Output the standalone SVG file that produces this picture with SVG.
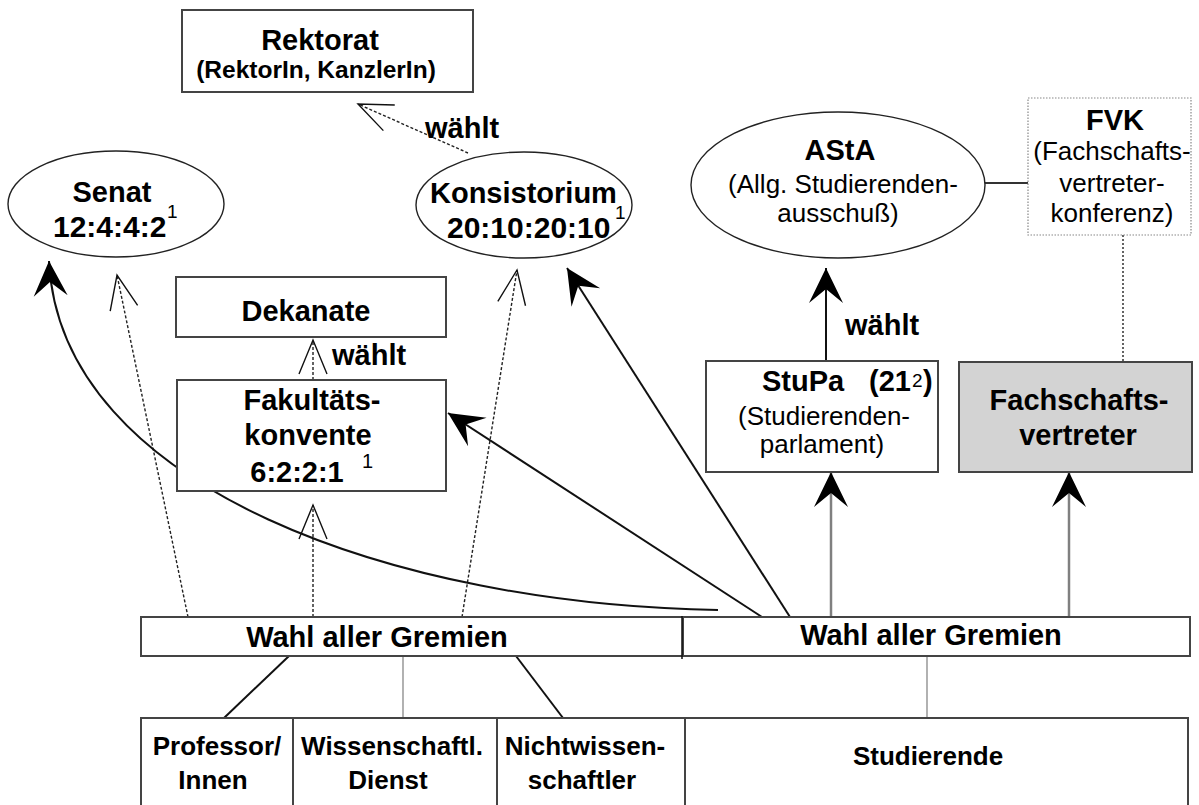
<svg xmlns="http://www.w3.org/2000/svg" width="1199" height="805" viewBox="0 0 1199 805">
<style>
text{font-family:"Liberation Sans",Arial,sans-serif;fill:#000}
.t{font-size:29px;font-weight:bold}
.n{font-size:30px;font-weight:bold}
.s{font-size:26px}
.b{font-size:26px;font-weight:bold}
.sup{font-size:19px}
.box{fill:#fff;stroke:#444;stroke-width:2}
.ell{fill:#fff;stroke:#222;stroke-width:1.4}
.solid{fill:none;stroke:#111;stroke-width:2}
.gray{fill:none;stroke:#808080;stroke-width:2.5}
.thin{fill:none;stroke:#888;stroke-width:1.3}
.dash{fill:none;stroke:#222;stroke-width:1.4;stroke-dasharray:3 2}
</style>
<defs>
<marker id="fa" markerUnits="userSpaceOnUse" viewBox="-40 -20 44 40" refX="0" refY="0" markerWidth="44" markerHeight="40" orient="auto">
<path d="M0,0 L-35,-17 L-21,0 L-35,17 Z" fill="#000"/>
</marker>
<marker id="oa" markerUnits="userSpaceOnUse" viewBox="-40 -20 44 40" refX="0" refY="0" markerWidth="44" markerHeight="40" orient="auto">
<path d="M-34,-14 L0,0 L-34,14" fill="none" stroke="#111" stroke-width="1.4"/>
</marker>
</defs>

<g id="connectors">
<path class="dash" d="M468,153 L358,104" marker-end="url(#oa)"/>
<path class="dash" d="M313,380 L313,340" marker-end="url(#oa)"/>
<path class="dash" d="M188,617 L117,275" marker-end="url(#oa)"/>
<path class="dash" d="M313,617 L313,505" marker-end="url(#oa)"/>
<path class="dash" d="M462,617 L517,270" marker-end="url(#oa)"/>
<path class="solid" d="M718,610 C400,605 60,490 49,261" marker-end="url(#fa)"/>
<path class="solid" d="M762,617 L448,413" marker-end="url(#fa)"/>
<path class="solid" d="M790,617 L567,268" marker-end="url(#fa)"/>
<path class="solid" d="M826,361 L826,268" marker-end="url(#fa)"/>
<path class="gray" d="M831,617 L831,472" marker-end="url(#fa)"/>
<path class="gray" d="M1069,617 L1069,472" marker-end="url(#fa)"/>
<path d="M1123,235 L1123,362" fill="none" stroke="#222" stroke-width="1.4" stroke-dasharray="2 2"/>
<path d="M985,183 L1028,183" fill="none" stroke="#333" stroke-width="2"/>
<path class="solid" d="M224,718 L289,656"/>
<path class="thin" d="M403,656 L403,718"/>
<path class="solid" d="M563,718 L516,656"/>
<path class="thin" d="M927,656 L927,718"/>
</g>

<g id="rektorat">
<rect class="box" x="182" y="10" width="291" height="82"/>
<text class="t" x="320" y="50" text-anchor="middle">Rektorat</text>
<text x="316" y="78" text-anchor="middle" style="font-size:24.5px;font-weight:bold">(RektorIn, KanzlerIn)</text>
</g>
<text id="label-waehlt-rektorat" class="t" x="425" y="138">wählt</text>

<g id="senat">
<ellipse class="ell" cx="116" cy="204" rx="108" ry="53"/>
<text class="t" x="112" y="202" text-anchor="middle">Senat</text>
<text class="n" x="53" y="237">12:4:4:2</text>
<text class="sup" x="167" y="218">1</text>
</g>

<g id="konsistorium">
<ellipse class="ell" cx="524" cy="205" rx="108" ry="53"/>
<text class="t" x="430" y="203">Konsistorium</text>
<text class="n" x="447" y="238">20:10:20:10</text>
<text class="sup" x="615" y="219">1</text>
</g>

<g id="asta">
<ellipse class="ell" cx="838" cy="185" rx="147" ry="73"/>
<text class="t" x="840" y="160" text-anchor="middle">AStA</text>
<text class="s" x="843" y="193" text-anchor="middle">(Allg. Studierenden-</text>
<text class="s" x="838" y="222" text-anchor="middle">ausschuß)</text>
</g>

<g id="fvk">
<rect x="1028" y="98" width="163" height="137" fill="#fff" stroke="#888" stroke-width="1.2" stroke-dasharray="1.5 1.5"/>
<text class="t" x="1115" y="130" text-anchor="middle">FVK</text>
<text class="s" x="1112" y="160" text-anchor="middle">(Fachschafts-</text>
<text class="s" x="1112" y="192" text-anchor="middle">vertreter-</text>
<text class="s" x="1112" y="222" text-anchor="middle">konferenz)</text>
</g>

<g id="dekanate">
<rect class="box" x="176" y="277" width="270" height="60"/>
<text class="t" x="306" y="321" text-anchor="middle">Dekanate</text>
</g>
<text id="label-waehlt-dekanate" class="t" x="332" y="365">wählt</text>

<g id="fakultaetskonvente">
<rect class="box" x="177" y="380" width="269" height="111"/>
<text class="t" x="312" y="410" text-anchor="middle">Fakultäts-</text>
<text class="t" x="308" y="445" text-anchor="middle">konvente</text>
<text class="t" x="297" y="482" text-anchor="middle">6:2:2:1</text>
<text class="sup" x="362" y="468" style="font-size:20px">1</text>
</g>

<g id="stupa">
<rect class="box" x="706" y="361" width="232" height="111"/>
<text class="t" x="762" y="391">StuPa</text>
<text class="t" x="869" y="391">(21</text>
<text class="sup" x="912" y="387">2</text>
<text class="t" x="923" y="391">)</text>
<text class="s" x="824" y="425" text-anchor="middle">(Studierenden-</text>
<text class="s" x="822" y="453" text-anchor="middle">parlament)</text>
</g>
<text id="label-waehlt-asta" class="t" x="845" y="335">wählt</text>

<g id="fachschaftsvertreter">
<rect x="959" y="362" width="233" height="110" fill="#d3d3d3" stroke="#444" stroke-width="2"/>
<text class="t" x="1079" y="410" text-anchor="middle">Fachschafts-</text>
<text class="t" x="1078" y="445" text-anchor="middle">vertreter</text>
</g>

<g id="wahl-links">
<rect class="box" x="141" y="617" width="542" height="39"/>
<text class="t" x="377" y="647" text-anchor="middle">Wahl aller Gremien</text>
</g>
<g id="wahl-rechts">
<rect class="box" x="683" y="617" width="507" height="39"/>
<line x1="682" y1="616" x2="682" y2="659" stroke="#111" stroke-width="1.5"/>
<text class="t" x="931" y="645" text-anchor="middle">Wahl aller Gremien</text>
</g>

<g id="professoren">
<rect class="box" x="141" y="718" width="152" height="110"/>
<text class="b" x="217" y="755" text-anchor="middle">Professor/</text>
<text class="b" x="213" y="789" text-anchor="middle">Innen</text>
</g>
<g id="wissenschaftlicher-dienst">
<rect class="box" x="293" y="718" width="204" height="110"/>
<text class="b" x="392" y="755" text-anchor="middle">Wissenschaftl.</text>
<text class="b" x="388" y="789" text-anchor="middle">Dienst</text>
</g>
<g id="nichtwissenschaftler">
<rect class="box" x="497" y="718" width="188" height="110"/>
<text class="b" x="585" y="755" text-anchor="middle">Nichtwissen-</text>
<text class="b" x="582" y="789" text-anchor="middle">schaftler</text>
</g>
<g id="studierende">
<rect class="box" x="685" y="718" width="503" height="110"/>
<text class="b" x="928" y="765" text-anchor="middle">Studierende</text>
</g>
</svg>
